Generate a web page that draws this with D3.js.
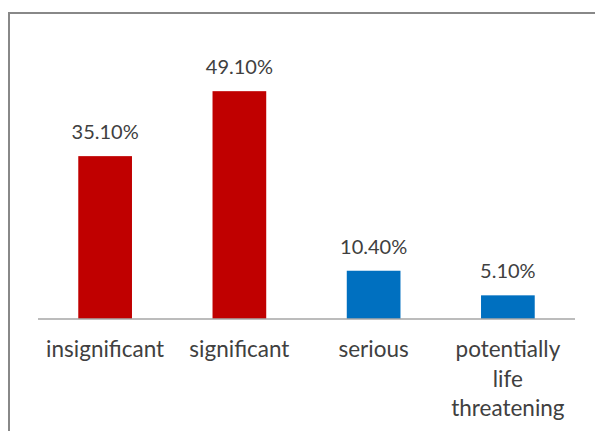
<!DOCTYPE html>
<html>
<head>
<meta charset="utf-8">
<script src="https://cdn.jsdelivr.net/npm/d3@7"></script>
<style>
  body { margin: 0; background: #fff; }
  svg text { font-family: Lato, "Open Sans", sans-serif; fill: #404040; }
</style>
</head>
<body>
<div id="chart"></div>
<script>
var categories = [["insignificant"], ["significant"], ["serious"], ["potentially", "life", "threatening"]];
var values = [35.1, 49.1, 10.4, 5.1];
var valueLabels = ["35.10%", "49.10%", "10.40%", "5.10%"];
var barColors = ["#C00000", "#C00000", "#0070C0", "#0070C0"];

var width = 595, height = 431;
var baseY = 319;

var svg = d3.select("#chart").append("svg")
    .attr("width", width)
    .attr("height", height);

// frame around the chart (runs off the right and bottom edge)
svg.append("rect")
    .attr("x", 9).attr("y", 13)
    .attr("width", 600).attr("height", 440)
    .attr("fill", "none")
    .attr("stroke", "#888")
    .attr("stroke-width", 2);

var x = d3.scaleBand()
    .domain(d3.range(values.length))
    .range([38, 575])
    .paddingInner(0.6)
    .paddingOuter(0.3);

var y = d3.scaleLinear()
    .domain([0, 60])
    .range([baseY, baseY - 278.4]);

svg.selectAll(".bar")
    .data(values)
    .enter().append("rect")
    .attr("class", "bar")
    .attr("x", function (d, i) { return x(i); })
    .attr("y", function (d) { return y(d); })
    .attr("width", x.bandwidth())
    .attr("height", function (d) { return y(0) - y(d); })
    .attr("fill", function (d, i) { return barColors[i]; });

svg.selectAll(".val")
    .data(values)
    .enter().append("text")
    .attr("class", "val")
    .attr("x", function (d, i) { return x(i) + x.bandwidth() / 2; })
    .attr("y", function (d) { return y(d) - 17; })
    .attr("text-anchor", "middle")
    .style("font-size", "20px")
    .text(function (d, i) { return valueLabels[i]; });

// baseline
svg.append("line")
    .attr("x1", 38).attr("x2", 575)
    .attr("y1", baseY).attr("y2", baseY)
    .attr("stroke", "#a6a6a6")
    .attr("stroke-width", 1.5);

var cats = svg.selectAll(".cat")
    .data(categories)
    .enter().append("text")
    .attr("class", "cat")
    .attr("text-anchor", "middle")
    .style("font-size", "22.5px");

cats.selectAll("tspan")
    .data(function (d, i) { return d.map(function (t) { return { t: t, i: i }; }); })
    .enter().append("tspan")
    .attr("x", function (d) { return x(d.i) + x.bandwidth() / 2; })
    .attr("y", function (d, j) { return 357 + j * 29.5; })
    .text(function (d) { return d.t; });
</script>
</body>
</html>
